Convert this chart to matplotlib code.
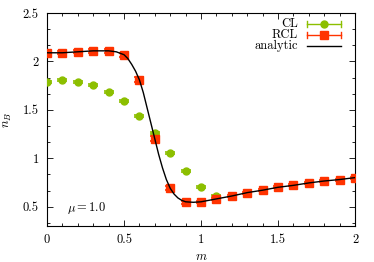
import matplotlib
matplotlib.use("Agg")
import matplotlib.pyplot as plt
from matplotlib.ticker import MultipleLocator, FormatStrFormatter
from matplotlib.lines import Line2D

plt.rcParams['font.family'] = ['cmr10', 'DejaVu Serif']
plt.rcParams['mathtext.fontset'] = 'cm'
plt.rcParams['axes.formatter.use_mathtext'] = True
plt.rcParams['font.size'] = 9

# RCL data
m_rcl = [0.0, 0.1, 0.2, 0.3, 0.4, 0.5, 0.6, 0.7, 0.8, 0.9, 1.0,
         1.1, 1.2, 1.3, 1.4, 1.5, 1.6, 1.7, 1.8, 1.9, 2.0]
n_rcl = [2.09, 2.09, 2.10, 2.11, 2.11, 2.07, 1.81, 1.20, 0.69, 0.545, 0.55,
         0.58, 0.61, 0.645, 0.67, 0.70, 0.72, 0.745, 0.765, 0.78, 0.80]
err_rcl = [0.02, 0.015, 0.015, 0.02, 0.02, 0.02, 0.025, 0.025, 0.02, 0.015, 0.01,
           0.01, 0.01, 0.01, 0.01, 0.01, 0.01, 0.01, 0.01, 0.01, 0.01]

# CL data
m_cl = [0.0, 0.1, 0.2, 0.3, 0.4, 0.5, 0.6, 0.7, 0.8, 0.9, 1.0, 1.1]
n_cl = [1.79, 1.805, 1.785, 1.76, 1.685, 1.595, 1.44, 1.257, 1.057, 0.871, 0.706, 0.613]
err_cl = [0.01] * len(m_cl)

# analytic curve
m_an = [0.0, 0.1, 0.2, 0.3, 0.4, 0.45, 0.5, 0.525, 0.55, 0.575, 0.6, 0.625, 0.65,
        0.675, 0.7, 0.725, 0.75, 0.775, 0.8, 0.825, 0.85, 0.875, 0.9, 0.95, 1.0,
        1.1, 1.2, 1.3, 1.4, 1.5, 1.6, 1.7, 1.8, 1.9, 2.0]
n_an = [2.09, 2.09, 2.10, 2.11, 2.11, 2.10, 2.07, 2.03, 1.97, 1.90, 1.81, 1.68, 1.52,
        1.36, 1.20, 1.04, 0.90, 0.78, 0.69, 0.63, 0.59, 0.565, 0.55, 0.545, 0.55,
        0.58, 0.61, 0.645, 0.67, 0.70, 0.72, 0.745, 0.765, 0.78, 0.80]

green = '#8cbf00'
red = '#ff3300'

fig = plt.figure(figsize=(3.74, 2.62), dpi=100)
ax = fig.add_axes([0.1257, 0.1374, 0.8235, 0.8126])

ax.errorbar(m_cl, n_cl, yerr=err_cl, fmt='o', color=green, ms=5,
            capsize=3.8, elinewidth=1, capthick=1.2, zorder=3)
ax.errorbar(m_rcl, n_rcl, yerr=err_rcl, fmt='s', color=red, ms=5.5,
            capsize=3.8, elinewidth=1, capthick=1.2, zorder=4)
ax.plot(m_an, n_an, color='black', lw=1.0, zorder=5)

ax.set_xlim(0, 2)
ax.set_ylim(0.3, 2.5)
ax.xaxis.set_major_locator(MultipleLocator(0.5))
ax.xaxis.set_minor_locator(MultipleLocator(0.1))
ax.yaxis.set_major_locator(MultipleLocator(0.5))
ax.yaxis.set_minor_locator(MultipleLocator(0.5 / 3))
ax.xaxis.set_major_formatter(FormatStrFormatter('%g'))
ax.yaxis.set_major_formatter(FormatStrFormatter('%g'))
ax.tick_params(which='both', direction='in', top=True, right=True, width=0.6)
ax.tick_params(which='major', length=4, pad=6)
ax.tick_params(which='minor', length=2)
for s in ax.spines.values():
    s.set_linewidth(0.8)

ax.set_xlabel(r'$m$', labelpad=3)
ax.set_ylabel(r'$n_B$', labelpad=6)
ax.text(0.065, 0.07, r'$\mu = 1.0$', transform=ax.transAxes, fontsize=9)

# gnuplot-style key
rows = [('CL', green, 'o', 5, True), ('RCL', red, 's', 5.5, True),
        ('analytic', 'black', None, 0, False)]
ys = [0.948, 0.898, 0.845]
x1, x2 = 0.845, 0.955
for (lab, c, mk, ms, caps), y in zip(rows, ys):
    ax.text(0.815, y, lab, transform=ax.transAxes, ha='right', va='center')
    ax.add_line(Line2D([x1, x2], [y, y], color=c, lw=1, transform=ax.transAxes,
                       clip_on=False))
    if caps:
        for xc in (x1, x2):
            ax.add_line(Line2D([xc, xc], [y - 0.015, y + 0.015], color=c, lw=1,
                               transform=ax.transAxes, clip_on=False))
        ax.add_line(Line2D([(x1 + x2) / 2], [y], marker=mk, ms=ms, color=c,
                           transform=ax.transAxes, clip_on=False))

fig.savefig('out.png', dpi=100)
